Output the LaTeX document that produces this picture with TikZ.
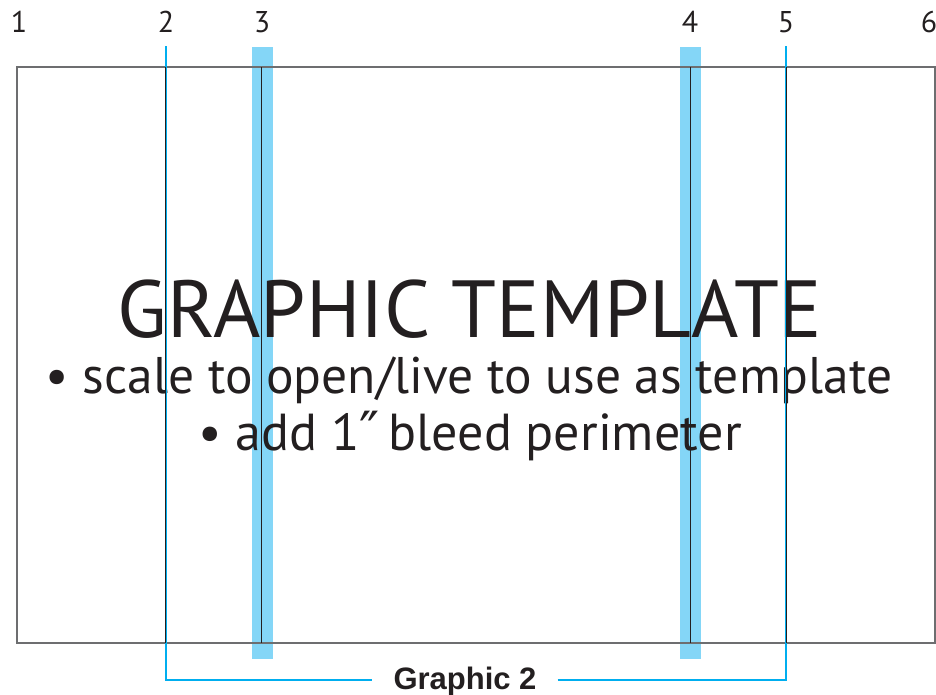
\documentclass[tikz,border=0pt]{standalone}
\usepackage{fontspec}
\setmainfont{PT Sans}
\newfontfamily\boldlabel{Liberation Sans}
\newfontfamily\primefont{DejaVu Sans}
\usetikzlibrary{positioning}
\definecolor{guideblue}{HTML}{00AEEF}
\definecolor{bandblue}{HTML}{84D6F7}
\definecolor{framegray}{HTML}{6D6E70}
\definecolor{ink}{HTML}{231F20}
\tikzset{
  guidenum/.style={anchor=base,inner sep=0pt,text=ink,font=\fontsize{30}{30}\selectfont},
  bandstrip/.style={fill=bandblue},
  blueguide/.style={draw=guideblue,line width=2pt},
  blackguide/.style={draw=ink,line width=1pt},
}
\begin{document}
\begin{tikzpicture}[x=1pt,y=-1pt]
  \useasboundingbox (0,0) rectangle (936,694);
  % bleed bands
  \fill[bandstrip] (252,47) rectangle (273,659);
  \fill[bandstrip] (680,47) rectangle (701,659);
  % outer frame
  \draw[framegray,line width=1.2pt] (17,67) rectangle (935,643);
  % column numbers
  \node[guidenum] (n1) at (19,32) {1};
  \node[guidenum] (n2) at (166,32) {2};
  \node[guidenum] (n3) at (262,32) {3};
  \node[guidenum] (n4) at (690,32) {4};
  \node[guidenum] (n5) at (786,32) {5};
  \node[guidenum] (n6) at (929,32) {6};
  % texts
  \node[anchor=base,text=ink,inner sep=0pt,font=\fontsize{81}{81}\selectfont] (title) at (470,337) {GRAPHIC TEMPLATE};
  \node[anchor=base,text=ink,inner sep=0pt,font=\fontsize{51.5}{51.5}\selectfont] (scale) at (469,393) {• scale to open/live to use as template};
  \node[anchor=base,text=ink,inner sep=0pt,font=\fontsize{52}{52}\selectfont] (bleed) at (470,450) {• add 1{\primefont\fontsize{54}{54}\selectfont ″}\,bleed perimeter};
  \node[anchor=base,text=ink,inner xsep=21pt,inner ysep=0pt,font=\boldlabel\bfseries\fontsize{31}{31}\selectfont] (graphic) at (465,689) {Graphic 2};
  % guide coordinates
  \coordinate (b2top) at (166,46);
  \coordinate (b2bot) at (166,680);
  \coordinate (b5top) at (786,46);
  \coordinate (b5bot) at (786,680);
  % blue bracket
  \draw[blueguide] (b2top) -- (b2bot) -- (graphic.west |- b2bot);
  \draw[blueguide] (graphic.east |- b5bot) -- (b5bot) -- (b5top);
  % black trim lines
  \foreach \gx in {165,261,690,786}
    \draw[blackguide] (\gx,67) -- (\gx,643);
\end{tikzpicture}
\end{document}
